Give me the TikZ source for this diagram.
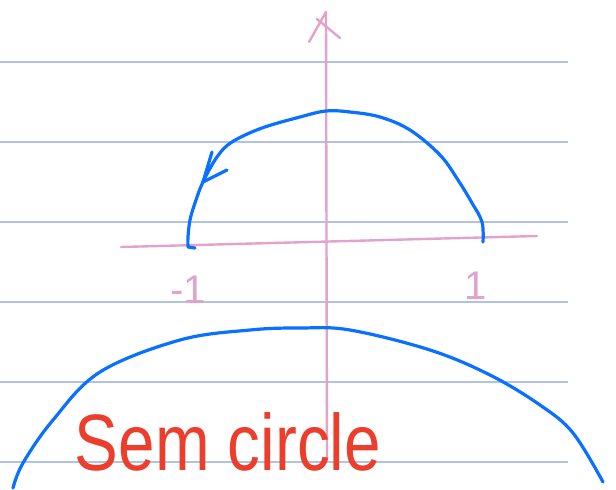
\documentclass[tikz,border=0pt]{standalone}
\usepackage{fontspec}
\newfontfamily\handfont{Liberation Sans}
\usetikzlibrary{arrows.meta}
\definecolor{ruleblue}{RGB}{176,196,226}
\definecolor{penblue}{RGB}{10,112,255}
\definecolor{penpink}{RGB}{226,162,204}
\definecolor{penred}{RGB}{236,62,44}

\begin{document}
\begin{tikzpicture}[
        x=0.5pt, y=-0.5pt,
        rule/.style={draw=ruleblue, line width=0.7pt},
        axis/.style={draw=penpink, line width=1.2pt, line cap=round},
        pen/.style={draw=penblue, line width=1.6pt, line cap=round, line join=round},
        marklabel/.style={text=penpink, font=\handfont\fontsize{20}{20}\selectfont},
        title/.style={text=penred, font=\handfont\fontsize{40}{40}\selectfont, xscale=0.82, inner sep=0pt, anchor=base}
    ]
        \useasboundingbox (0,0) rectangle (616,489);
        % ruled paper
        \foreach \y in {62,142,222,302,382,462}
            \draw[rule] (0,\y) -- (568,\y);

        % axes
        \coordinate (ytop) at (326,12);
        \coordinate (ybot) at (327,460);
        \coordinate (xleft) at (121,247);
        \coordinate (xright) at (537,236);
        \draw[axis] (ybot) -- (ytop);
        \draw[axis] (ytop) -- (309,42);
        \draw[axis] (317,19) -- (340,38);
        \draw[axis] (xleft) -- (xright);

        \node[marklabel] (minusone) at (188,290) {-1};
        \node[marklabel] (one) at (476,286) {1};

        % the semicircle, traced from 1 round to -1
        \coordinate (tip) at (203,182);
        \draw[pen] plot[smooth, tension=0.6] coordinates {(483,242) (482,222) (472,203) (458,180) (440,155) (410,130) (380,117) (350,112) (326,111) (300,117) (262,128) (232,142) (217,157) (tip) (195,203) (190,220) (188,237) (188,247)} -- (195,248);
        \draw[pen] (212,152) -- (tip) -- (227,170);

        % big arc below
        \draw[pen] plot[smooth, tension=0.6] coordinates {(13,488) (23,463) (53,420) (100,372) (180,340) (250,330) (300,328) (350,330) (430,350) (490,375) (540,405) (573,433) (603,482)};

        \node[title] (caption) at (228,470) {Sem circle};
    \end{tikzpicture}
\end{document}
